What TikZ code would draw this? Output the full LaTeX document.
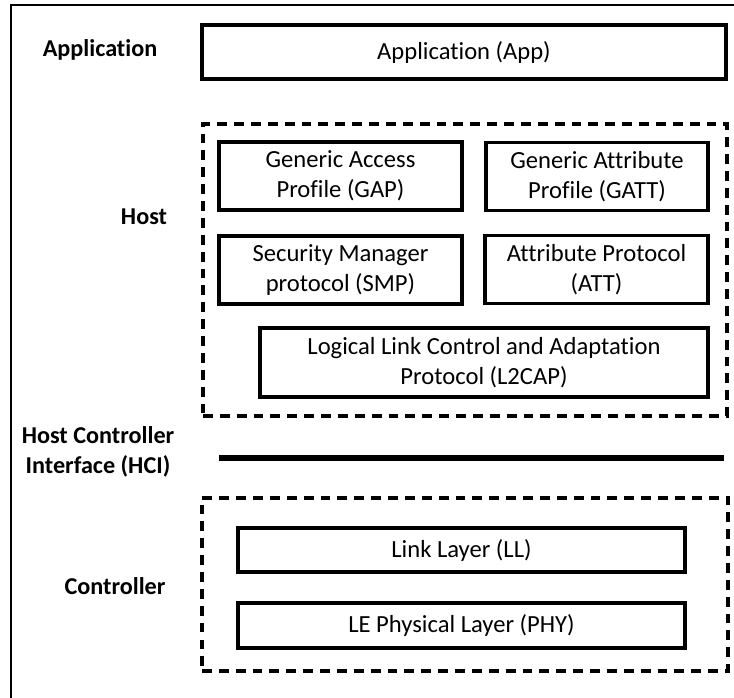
\documentclass[tikz,border=0pt]{standalone}
\usepackage{fontspec}
\setmainfont{Carlito}[Ligatures=NoCommon]
\usepackage{tikz}
\usetikzlibrary{positioning, shapes, calc}

\begin{document}
\begin{tikzpicture}[x=0.025cm, y=-0.025cm,
  every node/.style={font=\fontsize{17.5}{21.5}\selectfont, align=center},
  layerbox/.style={draw, rectangle, line width=2.4pt},
  groupbox/.style={draw, rectangle, line width=2.3pt, dash pattern=on 7pt off 5pt},
  sidelabel/.style={font=\fontsize{17.2}{21.5}\selectfont\bfseries}]

\useasboundingbox (0,0) rectangle (734,697);

% outer frame
\coordinate (frameL) at (11,5);
\coordinate (frameR) at (740,5);
\coordinate (frameB) at (11,700);
\draw[line width=1.8pt] (frameR) -- (frameL) -- (frameB);

% Application
\node[sidelabel] (lblapp) at (100, 50) {Application};
\node[layerbox, minimum width=13.1cm, minimum height=1.35cm] (app) at (464, 52) {Application (App)};

% Host
\node[groupbox, minimum width=13.1cm, minimum height=7.3cm] (host) at (465, 270) {};
\node[sidelabel] (lblhost) at (144, 217) {Host};
\node[layerbox, minimum width=6.075cm, minimum height=1.7cm] (gap) at (340.5, 176) {Generic Access\\Profile (GAP)};
\node[layerbox, minimum width=5.55cm, minimum height=1.7cm] (gatt) at (597, 176.5) {Generic Attribute\\Profile (GATT)};
\node[layerbox, minimum width=6.075cm, minimum height=1.7cm] (smp) at (340.5, 270) {Security Manager\\protocol (SMP)};
\node[layerbox, minimum width=5.575cm, minimum height=1.7cm] (att) at (596.5, 269.5) {Attribute Protocol\\(ATT)};
\node[layerbox, minimum width=11.2cm, minimum height=1.725cm] (l2cap) at (484, 362.5) {Logical Link Control and Adaptation\\Protocol (L2CAP)};

% HCI
\node[sidelabel] (lblhci) at (98, 452) {Host Controller\\Interface (HCI)};
\coordinate (hciL) at (219, 458);
\coordinate (hciR) at (724, 458);
\draw[line width=4.3pt] (hciL) -- (hciR);

% Controller
\node[groupbox, minimum width=13.15cm, minimum height=4.325cm] (ctrl) at (465, 584.5) {};
\node[sidelabel] (lblctrl) at (115, 586) {Controller};
\node[layerbox, minimum width=11.175cm, minimum height=1.1cm] (ll) at (461.5, 550) {Link Layer (LL)};
\node[layerbox, minimum width=11.175cm, minimum height=1.125cm] (phy) at (461.5, 625.5) {LE Physical Layer (PHY)};

\end{tikzpicture}
\end{document}
